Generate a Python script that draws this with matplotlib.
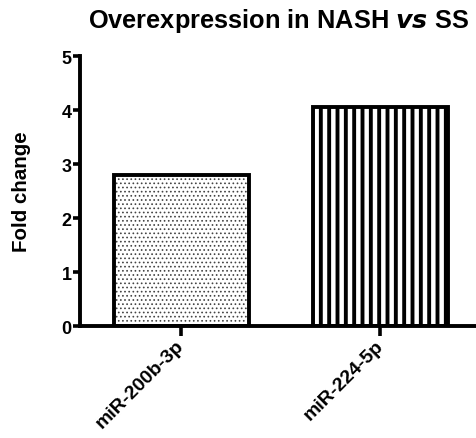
import matplotlib
matplotlib.use('Agg')
import matplotlib.pyplot as plt

plt.rcParams['font.family'] = ['Liberation Sans', 'DejaVu Sans']
plt.rcParams['font.weight'] = 'bold'

mirnas = ['miR-200b-3p', 'miR-224-5p']
fold_change = [2.79, 4.05]
hatches = ['....', '||']
hatch_colors = ['#444444', 'black']
hatch_widths = [0.7, 2.8]

fig = plt.figure(figsize=(4.76, 4.39), dpi=100)
ax = fig.add_axes([0.168, 0.255, 0.832, 0.615])

x = list(range(len(mirnas)))
for xi, val, h, hc, hw in zip(x, fold_change, hatches, hatch_colors, hatch_widths):
    with plt.rc_context({'hatch.linewidth': hw, 'hatch.color': hc}):
        b = ax.bar(xi, val, width=0.68, color='white', edgecolor='black',
                   linewidth=0, hatch=h, zorder=2)[0]
    if hasattr(b, 'set_hatch_linewidth'):
        b.set_hatch_linewidth(hw)
    b._hatch_color = matplotlib.colors.to_rgba(hc)
# outline drawn on top of the hatch
ax.bar(x, fold_change, width=0.68, fill=False, edgecolor='black',
       linewidth=2.8, zorder=3)

ax.set_xlim(-0.51, 1.48)
ax.set_ylim(0, 5)
ax.set_yticks([0, 1, 2, 3, 4, 5])
ax.set_xticks(x)
ax.set_xticklabels(mirnas, rotation=45, ha='right', va='center',
                   rotation_mode='anchor', fontsize=14, fontweight='bold')
ax.tick_params(axis='y', labelsize=13, width=2.6, length=5, pad=1)
ax.tick_params(axis='x', width=2.6, length=7, pad=5)
for t in ax.get_yticklabels():
    t.set_fontweight('bold')

for s in ['top', 'right']:
    ax.spines[s].set_visible(False)
for s in ['left', 'bottom']:
    ax.spines[s].set_linewidth(2.8)

ax.set_ylabel('Fold change', fontsize=14.8, fontweight='bold', labelpad=22)
ax.set_title('Overexpression in NASH $\\mathbf{\\mathit{vs}}$ SS', fontsize=18.3,
             fontweight='bold', pad=21)

fig.savefig('out.png', dpi=100)
